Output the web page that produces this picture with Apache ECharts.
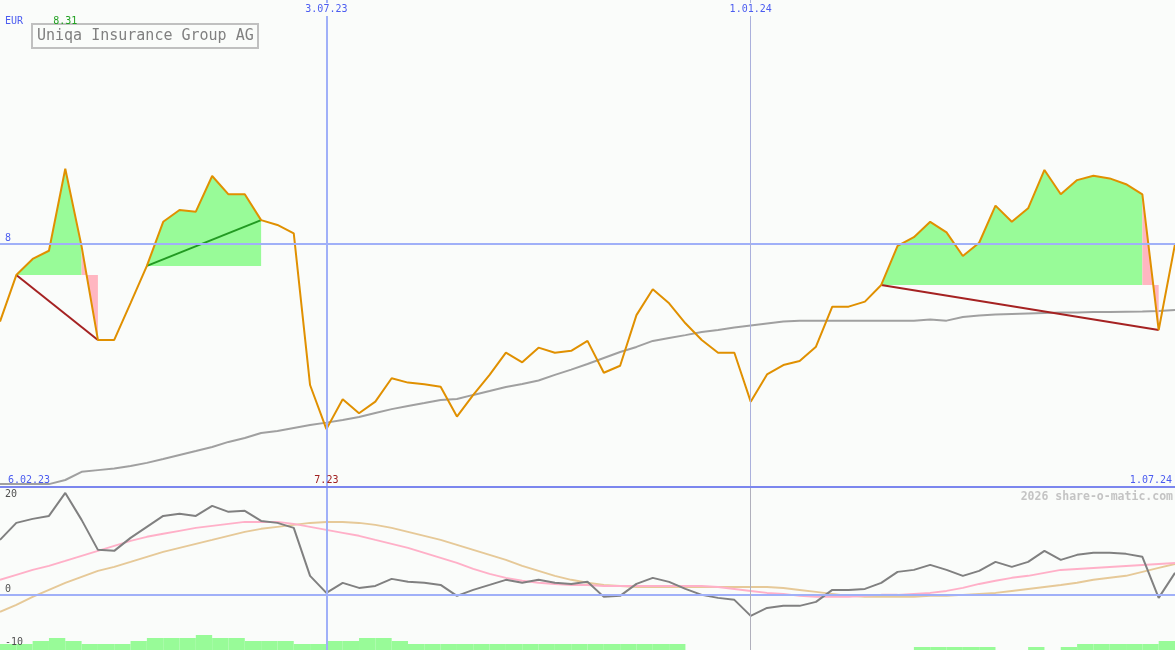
<!DOCTYPE html>
<html><head><meta charset="utf-8">
<script src="https://cdn.jsdelivr.net/npm/echarts@6/dist/echarts.min.js"></script>
<style>html,body{margin:0;padding:0;background:#fafcfa}#c{width:1175px;height:650px}</style>
</head><body><div id="c"></div>
<script>
const seriesName = 'Uniqa Insurance Group AG';
const currency = 'EUR';
const watermark = '2026 share-o-matic.com';
const periodStart = '6.02.23';
const refLevel = 8;
const markerDates = ['3.07.23', '1.01.24'];
const oscTicksUpper = [20, 0];
const oscTicksLower = [-10];

const dates = ['13.02.23','20.02.23','27.02.23','6.03.23','13.03.23','20.03.23','27.03.23','3.04.23','10.04.23','17.04.23',
'24.04.23','1.05.23','8.05.23','15.05.23','22.05.23','29.05.23','5.06.23','12.06.23','19.06.23','26.06.23',
'3.07.23','10.07.23','17.07.23','24.07.23','31.07.23','7.08.23','14.08.23','21.08.23','28.08.23','4.09.23',
'11.09.23','18.09.23','25.09.23','2.10.23','9.10.23','16.10.23','23.10.23','30.10.23','6.11.23','13.11.23',
'20.11.23','27.11.23','4.12.23','11.12.23','18.12.23','25.12.23','1.01.24','8.01.24','15.01.24','22.01.24',
'29.01.24','5.02.24','12.02.24','19.02.24','26.02.24','4.03.24','11.03.24','18.03.24','25.03.24','1.04.24',
'8.04.24','15.04.24','22.04.24','29.04.24','6.05.24','13.05.24','20.05.24','27.05.24','3.06.24','10.06.24',
'17.06.24','24.06.24','1.07.24'];

const price = [7.676,7.869,7.936,7.970,8.31,7.988,7.600,7.600,7.753,7.907,
8.090,8.139,8.132,8.280,8.204,8.204,8.097,8.077,8.042,7.413,
7.23,7.354,7.296,7.344,7.441,7.423,7.416,7.406,7.282,7.372,
7.455,7.547,7.507,7.568,7.547,7.555,7.596,7.464,7.493,7.703,
7.810,7.752,7.669,7.600,7.547,7.547,7.344,7.457,7.496,7.513,
7.572,7.738,7.738,7.759,7.828,7.990,8.026,8.090,8.046,7.948,
8.003,8.157,8.090,8.146,8.305,8.204,8.263,8.281,8.270,8.246,
8.204,7.641,7.997];

const ma = [7.002,7.002,7.002,7.002,7.019,7.053,7.060,7.067,7.077,7.090,
7.106,7.123,7.139,7.156,7.177,7.193,7.214,7.222,7.235,7.247,
7.257,7.268,7.280,7.297,7.313,7.326,7.338,7.351,7.355,7.372,
7.388,7.405,7.417,7.432,7.455,7.477,7.500,7.525,7.550,7.571,
7.596,7.608,7.620,7.633,7.641,7.652,7.660,7.668,7.676,7.680,
7.680,7.680,7.680,7.680,7.680,7.680,7.680,7.685,7.680,7.695,
7.701,7.705,7.708,7.710,7.712,7.714,7.714,7.716,7.716,7.717,
7.718,7.720,7.724];

const osc = [11.57,15.15,15.99,16.62,21.46,15.78,9.47,9.26,12.0,14.31,
16.62,17.05,16.62,18.73,17.47,17.68,15.57,15.15,14.1,4.0,
0.42,2.53,1.47,1.89,3.37,2.74,2.53,2.10,-0.21,1.05,
2.10,3.16,2.53,3.16,2.53,2.31,2.74,-0.42,-0.21,2.31,
3.58,2.74,1.26,0,-0.63,-1.05,-4.42,-2.74,-2.31,-2.31,
-1.47,1.05,1.05,1.26,2.53,4.84,5.26,6.31,5.26,4.0,
5.05,6.94,5.89,6.94,9.26,7.37,8.42,8.84,8.84,8.63,
8.0,-0.63,4.63];

const oscFast = [3.16,4.21,5.26,6.10,7.15,8.21,9.26,10.31,11.36,12.21,
12.84,13.47,14.10,14.52,14.94,15.36,15.36,15.36,14.94,14.31,
13.68,13.05,12.42,11.57,10.73,9.89,8.84,7.79,6.73,5.47,
4.42,3.58,2.95,2.53,2.31,2.10,2.10,1.89,1.89,1.89,
1.89,1.89,1.89,1.89,1.68,1.26,0.84,0.42,0.21,-0.21,
-0.42,-0.42,-0.42,-0.21,0,0,0.21,0.42,0.84,1.47,
2.31,2.95,3.58,4.0,4.63,5.26,5.47,5.68,5.89,6.10,
6.31,6.52,6.73];

const oscSlow = [-3.58,-2.10,-0.42,1.05,2.53,3.79,5.05,5.89,6.94,8.0,
9.05,9.89,10.73,11.57,12.42,13.26,13.89,14.31,14.73,15.15,
15.36,15.36,15.15,14.73,14.10,13.26,12.42,11.57,10.52,9.47,
8.42,7.37,6.10,5.05,4.0,3.16,2.53,2.10,1.89,1.68,
1.68,1.68,1.68,1.68,1.68,1.68,1.68,1.68,1.47,1.05,
0.63,0.21,-0.21,-0.42,-0.42,-0.42,-0.42,-0.21,-0.21,0,
0.21,0.42,0.84,1.26,1.68,2.10,2.53,3.16,3.58,4.0,
4.84,5.68,6.52];

const volume = [2,2,3,4,3,2,2,2,3,4,
4,4,5,4,4,3,3,3,2,2,
3,3,4,4,3,2,2,2,2,2,
2,2,2,2,2,2,2,2,2,2,
2,2,0,0,0,0,0,0,0,0,
0,0,0,0,0,0,1,1,1,1,
1,0,0,1,0,1,2,2,2,2,
2,3];

const tradeEntry = [1, 9, 54];
const tradeExit = [6, 16, 71];

const MONO = '"DejaVu Sans Mono", monospace';
const BLUE = '#4b5cf0';
const BG = '#fafcfa';
const GREEN_FILL = '#98fb98';
const PINK_FILL = '#ffb6c1';
const RED = '#a52222';
const GREEN = '#229a22';
const OSC_MIN = -11.6, OSC_MAX = 22.7;

const minIdx = price.indexOf(Math.min(...price));
const maxIdx = price.indexOf(Math.max(...price));
const lastIdx = dates.length - 1;
const vIdx = markerDates.map(d => dates.indexOf(d));

const chart = echarts.init(document.getElementById('c'), null, {renderer: 'canvas'});

const tradeLines = tradeEntry.map((s, k) => {
  const t = tradeExit[k];
  const col = price[t] >= price[s] ? GREEN : RED;
  return {
    type: 'line', xAxisIndex: 0, yAxisIndex: 0, z: 3, silent: true,
    data: [
      {value: [s, price[s]], itemStyle: {color: '#808080'}},
      {value: [t, price[t]], itemStyle: {color: col}}
    ],
    symbol: 'circle', symbolSize: 12, showSymbol: true,
    lineStyle: {color: col, width: 2},
    itemStyle: {color: col}
  };
});

const oscAxisBase = {
  type: 'value', gridIndex: 1, min: OSC_MIN, max: OSC_MAX, z: 10, position: 'left',
  splitLine: {show: false}, axisLine: {show: false}, axisTick: {show: false}
};

const option = {
  backgroundColor: BG,
  animation: false,
  textStyle: {fontFamily: MONO},
  title: {
    text: seriesName, left: 32, top: 24, padding: [4, 5, 4, 5],
    borderColor: '#c0c0c0', borderWidth: 2, backgroundColor: BG,
    textStyle: {fontFamily: MONO, fontSize: 15, fontWeight: 'normal', color: '#808080', lineHeight: 16}
  },
  graphic: [
    {type: 'text', left: 5, top: 16, z: 20, style: {text: currency, font: '10px ' + MONO, fill: BLUE}},
    {type: 'text', right: 2, top: 491, z: 20, style: {text: watermark, font: 'bold 11.5px ' + MONO, fill: '#c4c4c4'}}
  ],
  grid: [
    {left: 0, right: 0, top: 0, height: 487},
    {left: 0, right: 0, top: 487, height: 163}
  ],
  xAxis: [
    {
      type: 'category', gridIndex: 0, data: dates, boundaryGap: false, z: 10,
      axisLine: {show: true, onZero: false, lineStyle: {color: '#7b86ee', width: 2}},
      axisTick: {show: false}, splitLine: {show: false},
      axisLabel: {
        inside: true, margin: 2,
        interval: (i) => i === 0 || i === lastIdx || i === minIdx,
        formatter: (v, i) => i === 0 ? '{s|' + periodStart + '}' : (i === minIdx ? '{r|' + price[minIdx].toFixed(2) + '}' : '{e|' + v + '}'),
        alignMinLabel: 'left', alignMaxLabel: 'right',
        rich: {
          s: {color: BLUE, fontSize: 10, fontFamily: MONO, padding: [0, 0, 0, 8]},
          e: {color: BLUE, fontSize: 10, fontFamily: MONO, padding: [0, 3, 0, 0]},
          r: {color: '#a02020', fontSize: 10, fontFamily: MONO}
        }
      }
    },
    {type: 'category', gridIndex: 1, data: dates, boundaryGap: false, show: false},
    {
      type: 'category', gridIndex: 0, position: 'top', data: dates, boundaryGap: false, z: 10,
      axisLine: {show: false}, axisTick: {show: false}, splitLine: {show: false},
      axisLabel: {inside: true, margin: 3, interval: (i) => vIdx.includes(i), color: BLUE, fontSize: 10, fontFamily: MONO, backgroundColor: BG, padding: [1, 2, 2, 2]}
    },
    {
      type: 'category', gridIndex: 0, position: 'top', data: dates, boundaryGap: false, z: 10,
      axisLine: {show: false}, axisTick: {show: false}, splitLine: {show: false},
      axisLabel: {inside: true, margin: 16, interval: (i) => i === maxIdx, formatter: () => price[maxIdx].toFixed(2), color: '#20a020', fontSize: 10, fontFamily: MONO}
    }
  ],
  yAxis: [
    {
      type: 'value', gridIndex: 0, min: 6.99, max: 9.01, z: 10, position: 'left',
      splitLine: {show: false}, axisLine: {show: false}, axisTick: {show: false},
      axisLabel: {inside: true, customValues: [refLevel], verticalAlign: 'bottom', margin: 5, color: BLUE, fontSize: 10, fontFamily: MONO}
    },
    Object.assign({}, oscAxisBase, {
      axisLabel: {inside: true, customValues: oscTicksUpper, verticalAlign: 'bottom', margin: 5, color: '#505050', fontSize: 10, fontFamily: MONO}
    }),
    {type: 'value', gridIndex: 1, min: 0, max: 54.33, show: false, position: 'right'},
    Object.assign({}, oscAxisBase, {
      axisLabel: {inside: true, customValues: oscTicksLower, verticalAlign: 'middle', margin: 5, color: '#505050', fontSize: 10, fontFamily: MONO}
    })
  ],
  series: [
    {
      name: 'ma', type: 'line', xAxisIndex: 0, yAxisIndex: 0, z: 1, silent: true,
      data: ma, symbol: 'none', lineStyle: {color: '#a0a0a0', width: 2},
      markLine: {
        silent: true, symbol: 'none', label: {show: false},
        data: [
          {yAxis: refLevel, lineStyle: {color: '#a0b0f8', width: 2, type: 'solid'}},
          {xAxis: vIdx[0], lineStyle: {color: '#a0b0f8', width: 2, type: 'solid'}},
          {xAxis: vIdx[1], lineStyle: {color: '#aab0dc', width: 1, type: 'solid'}}
        ]
      }
    },
    {
      type: 'custom', xAxisIndex: 0, yAxisIndex: 0, z: 2, silent: true,
      data: tradeEntry.map((s, k) => [s, k]),
      renderItem: (params, api) => {
        const k = params.dataIndex;
        const s = tradeEntry[k], t = tradeExit[k];
        const base = price[s];
        const profit = price[t] >= base;
        const lastGreen = profit ? t : t - 1;
        const pts = [api.coord([s, base])];
        for (let j = s; j <= lastGreen; j++) pts.push(api.coord([j, price[j]]));
        pts.push(api.coord([lastGreen, base]));
        const children = [{type: 'polygon', shape: {points: pts}, style: {fill: GREEN_FILL}}];
        if (!profit) {
          children.push({type: 'polygon', shape: {points: [
            api.coord([t - 1, price[t - 1]]), api.coord([t, price[t]]),
            api.coord([t, base]), api.coord([t - 1, base])
          ]}, style: {fill: PINK_FILL}});
        }
        return {type: 'group', children};
      }
    },
    ...tradeLines,
    {
      name: seriesName, type: 'line', xAxisIndex: 0, yAxisIndex: 0, z: 4, silent: true,
      data: price, symbol: 'none', lineStyle: {color: '#e09000', width: 2}
    },
    {
      type: 'custom', xAxisIndex: 1, yAxisIndex: 2, z: 1, silent: true,
      data: volume.map((v, i) => [i, v]),
      renderItem: (params, api) => {
        const i = api.value(0), v = api.value(1);
        if (!v) return null;
        const a = api.coord([i, v]), b = api.coord([i + 1, 0]);
        return {type: 'rect', shape: {x: a[0], y: a[1], width: b[0] - a[0], height: b[1] - a[1]}, style: {fill: GREEN_FILL}};
      }
    },
    {
      type: 'line', xAxisIndex: 1, yAxisIndex: 1, z: 2, silent: true,
      data: oscSlow, symbol: 'none', lineStyle: {color: '#e6c998', width: 2},
      markLine: {
        silent: true, symbol: 'none', label: {show: false},
        data: [
          {yAxis: 0, lineStyle: {color: '#a0b0f8', width: 2, type: 'solid'}},
          {xAxis: vIdx[0], lineStyle: {color: '#a0b0f8', width: 2, type: 'solid'}},
          {xAxis: vIdx[1], lineStyle: {color: '#b0b0bc', width: 1, type: 'solid'}}
        ]
      }
    },
    {
      type: 'line', xAxisIndex: 1, yAxisIndex: 1, z: 3, silent: true,
      data: oscFast, symbol: 'none', lineStyle: {color: '#ffb0c8', width: 2}
    },
    {
      type: 'line', xAxisIndex: 1, yAxisIndex: 1, z: 4, silent: true,
      data: osc, symbol: 'none', lineStyle: {color: '#808080', width: 2}
    }
  ]
};
chart.setOption(option);
</script>
</body></html>
